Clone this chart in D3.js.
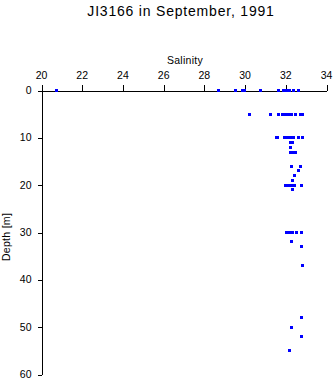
<!DOCTYPE html>
<html><head><meta charset="utf-8">
<script src="https://cdn.jsdelivr.net/npm/d3@7"></script>
<style>
body{margin:0;background:#fff;}
svg{display:block;}
text{font-family:"Liberation Sans",Arial,sans-serif;fill:#000;}
</style></head>
<body>
<svg id="c" width="335" height="384"></svg>
<script>
const title = "JI3166 in September, 1991";
const xLabel = "Salinity";
const yLabel = "Depth [m]";
const xTicks = [20,22,24,26,28,30,32,34];
const yTicks = [0,10,20,30,40,50,60];
const depth = [
  0,0,0,0,0,0,0,0,0,0,0,0,0,
  5,5,5,5,5,5,5,5,5,5,5,5,
  10,10,10,10,10,10,10,10,10,
  11,11,12,13,13,13,16,16,17,18,19,
  20,20,20,20,20,20,21,
  30,30,30,30,30,30,
  32,33,37,48,50,52,55
];
const salinity = [
  20.72,28.68,29.54,29.87,29.97,30.76,31.62,31.9,32.0,32.1,32.2,32.36,32.6,
  30.23,31.26,31.65,31.82,31.92,32.0,32.1,32.2,32.3,32.47,32.7,32.8,
  31.54,31.58,31.95,32.05,32.15,32.25,32.39,32.64,32.8,
  32.22,32.33,32.25,32.25,32.35,32.48,32.28,32.74,32.6,32.45,32.34,
  32.0,32.12,32.24,32.36,32.45,32.78,32.34,
  32.02,32.12,32.22,32.34,32.54,32.77,
  32.27,32.78,32.83,32.78,32.3,32.78,32.2
];

const svg = d3.select("#c");
const x = d3.scaleLinear().domain([20,34]).range([41,326]);
const y = d3.scaleLinear().domain([0,60]).range([90,374]);

svg.append("text").attr("x",181).attr("y",16).attr("text-anchor","middle")
  .style("font-size","14px").style("letter-spacing","0.8px").text(title);
svg.append("text").attr("x",185).attr("y",63.5).attr("text-anchor","middle")
  .style("font-size","10.5px").style("letter-spacing","0.3px").text(xLabel);
svg.append("text").attr("transform","translate(10,237) rotate(-90)").attr("text-anchor","middle")
  .style("font-size","10.5px").style("letter-spacing","0.3px").text(yLabel);

const xa = svg.append("g").attr("transform","translate(0,90.5)")
  .call(d3.axisTop(x).tickValues(xTicks).tickSize(6).tickPadding(6).tickSizeOuter(0));
const ya = svg.append("g").attr("transform","translate(41.5,0)")
  .call(d3.axisLeft(y).tickValues(yTicks).tickSize(4).tickPadding(6).tickSizeOuter(0));
[xa,ya].forEach(a=>{
  a.select(".domain").attr("stroke","#000").attr("shape-rendering","crispEdges");
  a.selectAll(".tick line").attr("stroke","#000").attr("shape-rendering","crispEdges");
  a.selectAll("text").style("font-size","10.5px").style("font-family","'Liberation Sans',Arial,sans-serif");
});
xa.selectAll(".tick line").attr("transform","translate(0.5,0)");
ya.selectAll(".tick line").attr("transform","translate(0,0.5)");

svg.append("g").selectAll("rect").data(depth.map((d,i)=>({d, s:salinity[i]})))
  .join("rect")
  .attr("x",p=>Math.round(x(p.s))-1).attr("y",p=>Math.round(y(p.d))-1)
  .attr("width",3).attr("height",3).attr("fill","#0000ff")
  .attr("shape-rendering","crispEdges");
</script>
</body></html>
